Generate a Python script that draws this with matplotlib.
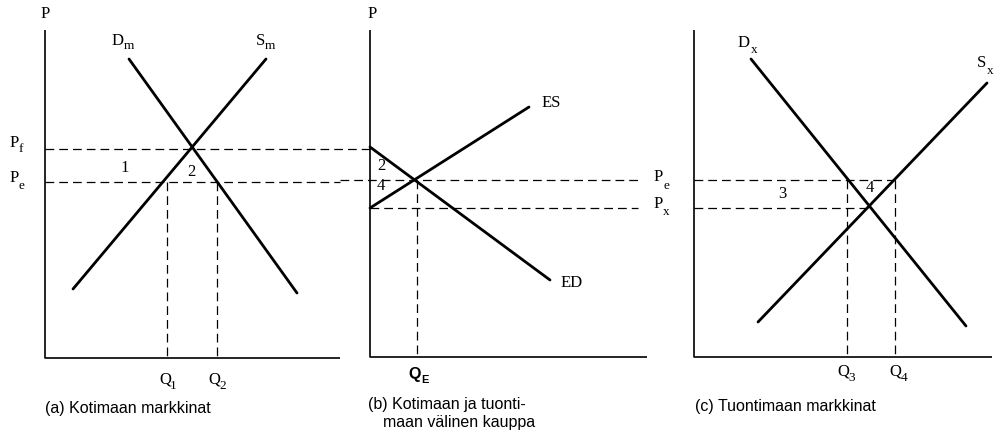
import numpy as np
import matplotlib
matplotlib.use('Agg')
import matplotlib.pyplot as plt

# Diagram geometry (pixel units, y grows downward)
# axes: (x of vertical axis, top of vertical axis, y of horizontal axis, right end)
axes_a = (45, 30, 358, 340)
axes_b = (370, 30, 357, 647)
axes_c = (694, 30, 357, 992)

# solid curves: ((x0, y0), (x1, y1))
dm = ((129, 59), (297, 293))
sm = ((73, 289), (266, 59))
es = ((370, 208), (529, 107))
ed = ((370, 147), (550, 280))
dx = ((751, 59), (966, 326))
sx = ((758, 322), (987, 83))

# dashed price lines: (y, x_start, x_end)
price_lines = [(149, 45, 370), (182, 45, 340), (180, 340, 640),
               (208, 370, 638), (180, 694, 895), (208, 694, 868)]
# dashed quantity lines: (x, y_top, y_bottom)
qty_lines = [(167, 182, 358), (217, 182, 358), (417, 180, 357),
             (847, 180, 357), (895, 180, 357)]

# plain serif labels: (text, x, y)
plain_labels = [('P', 45, 14), ('1', 125, 168), ('2', 191, 172),
                ('P', 372, 14), ('ES', 551, 103), ('ED', 572, 283),
                ('2', 381, 166), ('4', 381, 186),
                ('3', 782, 194), ('4', 870, 188)]
# subscripted serif labels: (main, sub, x, y, x_sub, y_sub)
sub_labels = [('D', 'm', 118, 41, 129, 46), ('S', 'm', 261, 41, 270, 46),
              ('P', 'f', 14, 143, 21, 149), ('P', 'e', 14, 178, 21, 186),
              ('Q', '1', 165, 380, 173, 386), ('Q', '2', 214, 380, 223, 386),
              ('P', 'e', 658, 177, 666, 186), ('P', 'x', 658, 204, 666, 212),
              ('D', 'x', 744, 43, 754, 50), ('S', 'x', 982, 63, 990, 71),
              ('Q', '3', 843, 371, 852, 378), ('Q', '4', 895, 371, 904, 378)]
captions = [('(a) Kotimaan markkinat', 45, 409),
            ('(b) Kotimaan ja tuonti-', 368, 405),
            ('maan välinen kauppa', 383, 423),
            ('(c) Tuontimaan markkinat', 695, 406)]

fig = plt.figure(figsize=(9.98, 4.40), dpi=100)
ax = fig.add_axes([0, 0, 1, 1])
ax.set_xlim(0, 998)
ax.set_ylim(440, 0)
ax.axis('off')

for x0, top, y0, right in (axes_a, axes_b, axes_c):
    ax.plot([x0, x0, right], [top, y0, y0], color='black', lw=1.2, solid_capstyle='butt')

for (x0, y0), (x1, y1) in (dm, sm, es, ed, dx, sx):
    ax.plot([x0, x1], [y0, y1], color='black', lw=2.0, solid_capstyle='round')

dash = dict(color='black', lw=0.9, dashes=(7, 4))
for y, xa, xb in price_lines:
    ax.plot([xa, xb], [y, y], **dash)
for x, ya, yb in qty_lines:
    ax.plot([x, x], [ya, yb], **dash)

serif = 'Liberation Serif'
for s, x, y in plain_labels:
    ax.text(x, y, s, family=serif, fontsize=12, ha='center', va='center')
for m, s, x, y, xs, ys in sub_labels:
    ax.text(x, y, m, family=serif, fontsize=12, ha='center', va='center')
    ax.text(xs, ys, s, family=serif, fontsize=9.5, ha='center', va='center')

# Q_E is set in a sans face in the original
ax.text(415, 375, 'Q', family='Liberation Sans', fontsize=11.5, weight='semibold',
        ha='center', va='center')
ax.text(425, 380, 'E', family='Liberation Sans', fontsize=8, weight='semibold',
        ha='center', va='center')

for s, x, y in captions:
    ax.text(x, y, s, family='Liberation Sans', fontsize=11.5, ha='left', va='center')

fig.savefig('out.png', dpi=100)
